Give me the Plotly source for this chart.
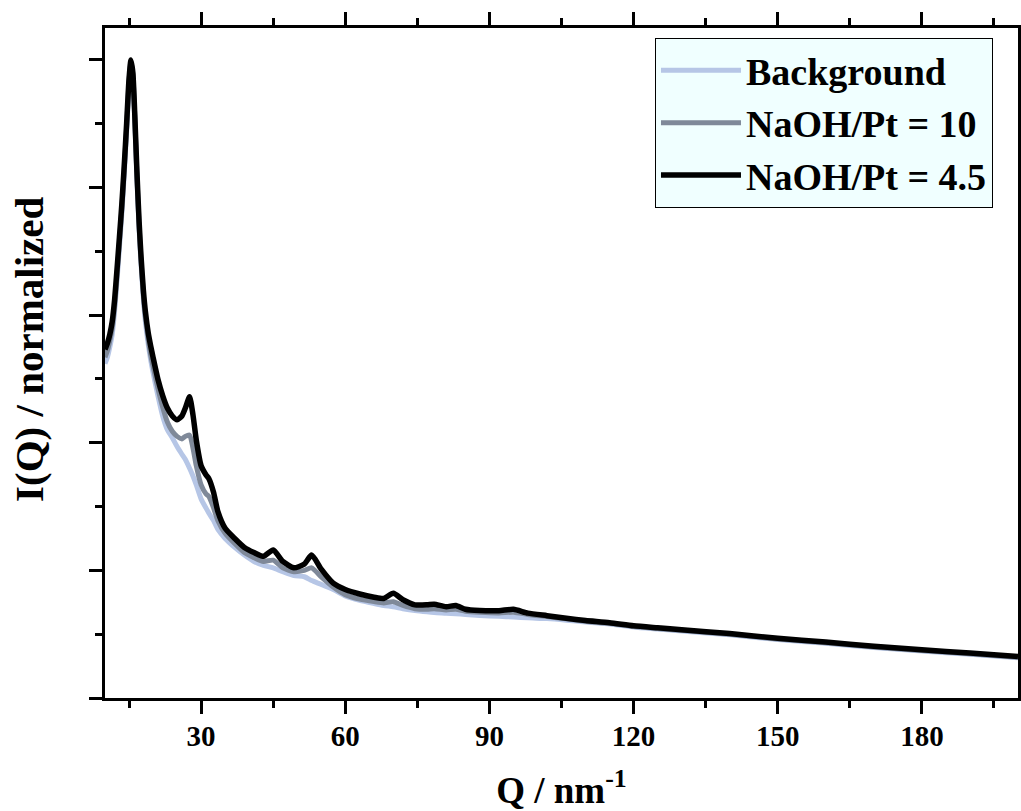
import plotly.graph_objects as go

# Q grid (nm^-1)
q_values = [10, 10.5, 11, 11.5, 12, 12.5, 13, 13.5, 14, 14.5,
            15, 15.4, 15.8, 16.2, 16.65, 17.1, 17.5, 18, 18.4, 19,
            19.5, 20, 21, 22, 23, 24, 25, 26, 26.7, 27.6,
            28.3, 29, 30, 31, 31.6, 32.6, 33.5, 35, 37, 39,
            41, 43, 45, 47, 49.3, 51.5, 53, 55, 57.5, 60,
            63, 66, 68, 70, 72, 74.5, 77, 78.5, 81, 83,
            85, 88, 92, 95, 98, 102, 106, 110, 115, 120,
            125, 130, 140, 150, 160, 170, 180, 190, 200]

background = [2.62, 2.67, 2.75, 2.85, 3.03, 3.27, 3.53, 3.79, 4.10, 4.44,
              4.81, 4.98, 4.87, 4.53, 4.07, 3.67, 3.40, 3.12, 2.95, 2.77,
              2.65, 2.55, 2.37, 2.21, 2.10, 2.04, 1.97, 1.91, 1.87, 1.80,
              1.74, 1.67, 1.56, 1.49, 1.45, 1.39, 1.32, 1.25, 1.18, 1.12,
              1.07, 1.04, 1.02, 0.99, 0.96, 0.95, 0.92, 0.89, 0.85, 0.80,
              0.765, 0.74, 0.725, 0.715, 0.70, 0.685, 0.675, 0.67, 0.665, 0.66,
              0.655, 0.647, 0.64, 0.635, 0.628, 0.622, 0.61, 0.595, 0.58, 0.556,
              0.54, 0.525, 0.495, 0.458, 0.428, 0.395, 0.368, 0.342, 0.316]

naoh_10 = [2.67, 2.72, 2.80, 2.90, 3.07, 3.31, 3.57, 3.83, 4.14, 4.47,
           4.83, 4.99, 4.88, 4.55, 4.09, 3.70, 3.43, 3.15, 2.99, 2.81,
           2.69, 2.60, 2.43, 2.28, 2.16, 2.09, 2.05, 2.03, 2.05, 2.06,
           1.96, 1.82, 1.67, 1.60, 1.58, 1.49, 1.39, 1.29, 1.21, 1.14,
           1.10, 1.07, 1.08, 1.02, 0.99, 1.00, 1.02, 0.95, 0.87, 0.81,
           0.775, 0.755, 0.745, 0.755, 0.725, 0.70, 0.695, 0.70, 0.69, 0.695,
           0.68, 0.672, 0.667, 0.672, 0.655, 0.638, 0.62, 0.602, 0.585, 0.561,
           0.545, 0.53, 0.50, 0.463, 0.433, 0.40, 0.373, 0.347, 0.32]

naoh_4_5 = [2.73, 2.78, 2.85, 2.95, 3.12, 3.36, 3.61, 3.87, 4.17, 4.50,
            4.85, 5.00, 4.90, 4.57, 4.12, 3.73, 3.46, 3.19, 3.03, 2.86,
            2.76, 2.67, 2.50, 2.37, 2.27, 2.21, 2.18, 2.21, 2.27, 2.36,
            2.22, 2.02, 1.82, 1.75, 1.72, 1.61, 1.46, 1.33, 1.25, 1.18,
            1.14, 1.11, 1.16, 1.07, 1.02, 1.05, 1.12, 1.01, 0.90, 0.85,
            0.815, 0.79, 0.78, 0.82, 0.77, 0.73, 0.73, 0.735, 0.715, 0.725,
            0.695, 0.685, 0.684, 0.695, 0.665, 0.645, 0.625, 0.607, 0.59, 0.566,
            0.55, 0.535, 0.505, 0.468, 0.438, 0.405, 0.378, 0.352, 0.325]

series_names = ["Background", "NaOH/Pt = 10", "NaOH/Pt = 4.5"]
x_tick_vals = [30, 60, 90, 120, 150, 180]

FONT = "Liberation Serif, Times New Roman, serif"

fig = go.Figure()
styles = [("#B6C6E6", 5.0), ("#7F8999", 5.0), ("#000000", 5.5)]
for name, ys, (col, w) in zip(series_names, [background, naoh_10, naoh_4_5], styles):
    fig.add_trace(go.Scatter(
        x=q_values, y=ys, mode="lines", name=name,
        line=dict(color=col, width=w, shape="spline", smoothing=0.6),
    ))

axis_common = dict(
    showline=True, linecolor="black", linewidth=2.5, mirror="ticks",
    ticks="outside", ticklen=13, tickwidth=2.5, tickcolor="black",
    showgrid=False, zeroline=False, automargin=False,
)

fig.update_layout(
    width=1021, height=811,
    margin=dict(l=105, r=3, t=28, b=113),
    paper_bgcolor="white", plot_bgcolor="white",
    font=dict(family=FONT, color="black"),
    xaxis=dict(
        range=[10, 200], tickmode="array", tickvals=x_tick_vals,
        ticktext=[str(v) for v in x_tick_vals],
        tickfont=dict(size=29, family=FONT, weight="bold"),
        ticklabelstandoff=-3,
        minor=dict(dtick=15, tick0=0, ticklen=7, tickwidth=2.5, tickcolor="black", ticks="outside"),
        title=dict(text="Q / nm<sup>-1</sup>", font=dict(size=37, family=FONT, weight="bold"), standoff=33),
        **axis_common,
    ),
    yaxis=dict(
        range=[0, 5.25], dtick=1, tick0=0, showticklabels=False,
        minor=dict(dtick=0.5, tick0=0, ticklen=7, tickwidth=2.5, tickcolor="black", ticks="outside"),
        **axis_common,
    ),
    legend=dict(
        x=0.9726, y=0.985, xanchor="right", yanchor="top",
        bgcolor="#F0FFFF", bordercolor="black", borderwidth=1,
        font=dict(size=38, family=FONT, weight="bold"),
        itemwidth=80, tracegroupgap=0,
    ),
    showlegend=True,
    annotations=[dict(
        text="I(Q) / normalized", textangle=-90, showarrow=False,
        xref="paper", yref="paper", x=-0.084, y=0.52,
        xanchor="center", yanchor="middle",
        font=dict(size=41, family=FONT, weight="bold", color="black"),
    )],
)

fig.write_html("out.html")
